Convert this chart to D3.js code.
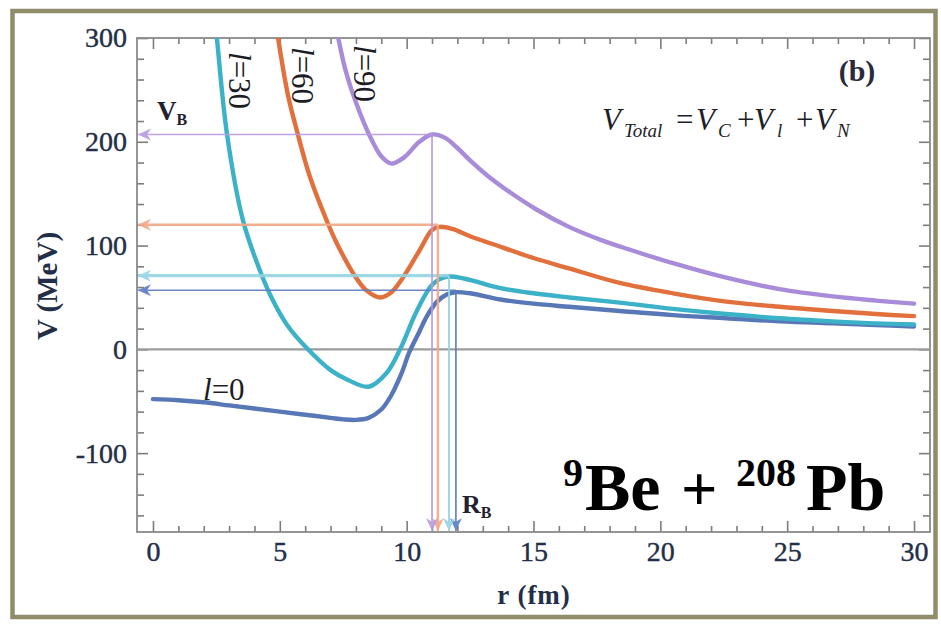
<!DOCTYPE html>
<html>
<head>
<meta charset="utf-8">
<script src="https://cdn.jsdelivr.net/npm/d3@7/dist/d3.min.js"></script>
<style>
  html, body { margin: 0; padding: 0; background: #ffffff; }
  svg { display: block; }
</style>
</head>
<body>
<svg id="chart" width="941" height="628"></svg>
<script>
// ---------------- data ----------------
// l = 0
const rL0 = [0, 1, 2, 3, 4, 5, 6, 7, 7.5, 8, 8.5, 9, 9.4, 9.8, 10.1, 10.5, 10.8, 11.2, 11.6, 11.9, 12.5, 13.7, 15, 16.4, 18.4, 20.5, 22.6, 24.7, 26.8, 28.5, 30];
const vL0 = [-48, -49, -51, -54, -57, -60, -63, -66, -67.5, -68, -66, -58, -44, -23, -3, 17, 32, 46, 53, 55, 54, 48, 44, 41, 37, 33, 30, 27, 25, 23.5, 22];
// l = 30
const rL30 = [2.4, 2.52, 2.92, 3.55, 4.2, 4.73, 5.3, 6.07, 7.0, 7.65, 8.5, 9.2, 9.74, 10.4, 11.04, 11.6, 12.3, 13.7, 15, 16.4, 18.4, 20.5, 22.6, 24.7, 26.8, 28.5, 30];
const vL30 = [330, 300, 207, 124, 77, 47, 23, 1, -20, -29, -36, -23, 0, 37, 63, 70, 68, 59, 54, 50, 45, 39, 34, 30, 27, 25, 24];
// l = 60
const rL60 = [4.8, 4.93, 5.32, 5.68, 6.19, 6.9, 7.25, 7.9, 8.4, 8.95, 9.4, 9.85, 10.5, 11.0, 11.3, 11.8, 12.5, 13.8, 15, 16.4, 18.4, 20.5, 22.6, 24.7, 26.8, 28.5, 30];
const vL60 = [322, 300, 245, 210, 166, 121, 102, 73, 57, 50, 55, 69, 95, 115, 118, 116, 109, 98, 88, 78, 64, 54, 46, 41, 37, 34, 32];
// l = 90
const rL90 = [7.15, 7.3, 7.6, 8.0, 8.5, 9.0, 9.4, 9.9, 10.5, 11.0, 11.5, 12.0, 12.5, 13.2, 13.8, 15.1, 16.4, 17.7, 18.8, 20.5, 22.6, 24.7, 26.8, 28.5, 30];
const vL90 = [315, 300, 268, 238, 208, 186, 179, 185, 200, 207, 204, 194, 182, 167, 156, 135, 118, 105, 96, 83, 69, 58, 51, 47, 44];

const seriesNames = ["l=0", "l=30", "l=60", "l=90"];
// barrier positions R_B (fm) and heights V_B (MeV)
const barrierR = [11.94, 11.67, 11.23, 11.0];
const barrierV = [57, 71, 120, 207];

const xTickValues = [0, 5, 10, 15, 20, 25, 30];
const yTickValues = [-100, 0, 100, 200, 300];
const xTickLabels = ["0", "5", "10", "15", "20", "25", "30"];
const yTickLabels = ["-100", "0", "100", "200", "300"];

// ---------------- styles ----------------
const curveColors = ["#5877b6", "#3cb2c9", "#e1703d", "#a88cd9"];
const guideColors = ["#5c7bc2", "#93d4e2", "#f2a886", "#b89ae2"];
const hGuideWidths = [1.6, 3.2, 2.6, 1.6];
const vGuideWidths = [1.8, 2.0, 2.4, 1.8];
const labelColor = "#232e48";

const svg = d3.select("#chart");
const W = 941, H = 628;
const plot = { left: 137, right: 930, top: 38, bottom: 532 };

const x = d3.scaleLinear().domain([-0.63, 30.63]).range([plot.left, plot.right]);
const y = d3.scaleLinear().domain([-176, 300]).range([plot.bottom, plot.top]);

// outer olive frame
svg.append("rect").attr("x", 0).attr("y", 0).attr("width", W).attr("height", H).attr("fill", "#ffffff");
svg.append("rect").attr("x", 12.5).attr("y", 11).attr("width", 923).attr("height", 606)
  .attr("fill", "#ffffff").attr("stroke", "#8f8d69").attr("stroke-width", 4.5);

const defs = svg.append("defs");
defs.append("clipPath").attr("id", "plotclip").append("rect")
  .attr("x", plot.left).attr("y", plot.top)
  .attr("width", plot.right - plot.left).attr("height", plot.bottom - plot.top);

guideColors.forEach((c, i) => {
  defs.append("marker").attr("id", "arr" + i)
    .attr("viewBox", "-14 -7 16 14").attr("refX", 0).attr("refY", 0)
    .attr("markerWidth", 16).attr("markerHeight", 14)
    .attr("markerUnits", "userSpaceOnUse").attr("orient", "auto")
    .append("path").attr("d", "M0,0 L-13,-6 L-9,0 L-13,6 Z").attr("fill", c);
});

// ---------------- axes ----------------
const tickColor = "#7d7d7d";
function styleAxis(g) {
  g.select(".domain").remove();
  g.selectAll(".tick line").attr("stroke", tickColor).attr("stroke-width", 1.6);
  g.selectAll(".tick text").attr("fill", labelColor)
    .attr("stroke", labelColor).attr("stroke-width", 0.4)
    .attr("font-family", "'Liberation Serif', 'DejaVu Serif', serif").attr("font-size", 28);
}
const xMinor = d3.range(0, 31, 1).filter(v => v % 5 !== 0);
const yMinor = d3.range(-160, 300, 20).filter(v => v % 100 !== 0);

// bottom
svg.append("g").attr("transform", `translate(0,${plot.bottom})`)
  .call(d3.axisBottom(x).tickValues(xTickValues).tickFormat((d, i) => xTickLabels[i]).tickSize(-11).tickSizeOuter(0).tickPadding(9))
  .call(styleAxis);
svg.append("g").attr("transform", `translate(0,${plot.bottom})`)
  .call(d3.axisBottom(x).tickValues(xMinor).tickFormat("").tickSize(-6).tickSizeOuter(0)).call(styleAxis);
// top
svg.append("g").attr("transform", `translate(0,${plot.top})`)
  .call(d3.axisTop(x).tickValues(xTickValues).tickFormat("").tickSize(-11).tickSizeOuter(0)).call(styleAxis);
svg.append("g").attr("transform", `translate(0,${plot.top})`)
  .call(d3.axisTop(x).tickValues(xMinor).tickFormat("").tickSize(-6).tickSizeOuter(0)).call(styleAxis);
// left
svg.append("g").attr("transform", `translate(${plot.left},0)`)
  .call(d3.axisLeft(y).tickValues(yTickValues).tickFormat((d, i) => yTickLabels[i]).tickSize(-11).tickSizeOuter(0).tickPadding(10))
  .call(styleAxis);
svg.append("g").attr("transform", `translate(${plot.left},0)`)
  .call(d3.axisLeft(y).tickValues(yMinor).tickFormat("").tickSize(-7).tickSizeOuter(0)).call(styleAxis);
// right
svg.append("g").attr("transform", `translate(${plot.right},0)`)
  .call(d3.axisRight(y).tickValues(yTickValues).tickFormat("").tickSize(-11).tickSizeOuter(0)).call(styleAxis);
svg.append("g").attr("transform", `translate(${plot.right},0)`)
  .call(d3.axisRight(y).tickValues(yMinor).tickFormat("").tickSize(-7).tickSizeOuter(0)).call(styleAxis);

// frame
svg.append("rect").attr("x", plot.left).attr("y", plot.top)
  .attr("width", plot.right - plot.left).attr("height", plot.bottom - plot.top)
  .attr("fill", "none").attr("stroke", "#8a8a8a").attr("stroke-width", 1.8);

// zero line
svg.append("line").attr("x1", plot.left).attr("x2", plot.right).attr("y1", y(0)).attr("y2", y(0))
  .attr("stroke", "#9c9c9c").attr("stroke-width", 2.2);

// ---------------- curves ----------------
const series = [
  rL0.map((r, i) => [r, vL0[i]]),
  rL30.map((r, i) => [r, vL30[i]]),
  rL60.map((r, i) => [r, vL60[i]]),
  rL90.map((r, i) => [r, vL90[i]])
];
const line = d3.line().x(d => x(d[0])).y(d => y(d[1])).curve(d3.curveCatmullRom.alpha(0.5));
const curveG = svg.append("g").attr("clip-path", "url(#plotclip)");
series.forEach((s, i) => {
  curveG.append("path").datum(s).attr("d", line)
    .attr("fill", "none").attr("stroke", curveColors[i]).attr("stroke-width", 4.4)
    .attr("stroke-linejoin", "round").attr("stroke-linecap", "round");
});

// ---------------- barrier guides ----------------
const guideG = svg.append("g");
barrierR.forEach((r, i) => {
  guideG.append("line")
    .attr("x1", x(r)).attr("y1", y(barrierV[i])).attr("x2", plot.left + 1).attr("y2", y(barrierV[i]))
    .attr("stroke", guideColors[i]).attr("stroke-width", hGuideWidths[i]).attr("opacity", 0.9)
    .attr("marker-end", `url(#arr${i})`);
  guideG.append("line")
    .attr("x1", x(r)).attr("y1", y(barrierV[i])).attr("x2", x(r)).attr("y2", plot.bottom - 1)
    .attr("stroke", guideColors[i]).attr("stroke-width", vGuideWidths[i]).attr("opacity", 0.9)
    .attr("marker-end", `url(#arr${i})`);
});

// ---------------- texts ----------------
const serif = "'Liberation Serif', 'DejaVu Serif', serif";

// axis titles
svg.append("text").attr("transform", "translate(57,286) rotate(-90)")
  .attr("text-anchor", "middle").attr("font-family", serif).attr("font-size", 29).attr("font-weight", "bold")
  .attr("fill", labelColor).text("V (MeV)");
svg.append("text").attr("x", 534).attr("y", 604)
  .attr("text-anchor", "middle").attr("font-family", serif).attr("font-size", 27).attr("font-weight", "bold")
  .attr("fill", labelColor).attr("letter-spacing", 1).text("r (fm)");

// (b)
svg.append("text").attr("x", 857).attr("y", 81).attr("text-anchor", "middle")
  .attr("font-family", serif).attr("font-size", 30).attr("font-weight", "bold").attr("fill", "#2a2a3a").text("(b)");

// V_Total = V_C + V_l + V_N
const eq = svg.append("text").attr("y", 130)
  .attr("font-family", serif).attr("font-size", 31).attr("font-style", "italic").attr("fill", "#1e1e28");
const eqParts = [
  ["V", 602, 0, 31], ["Total", 624, 7, 19], ["=", 676, 0, 31], ["V", 696, 0, 31], ["C", 718, 7, 19],
  ["+", 737, 0, 31], ["V", 754, 0, 31], ["l", 777, 7, 19], ["+", 796, 0, 31], ["V", 815, 0, 31], ["N", 837, 7, 19]
];
eqParts.forEach(p => {
  eq.append("tspan").attr("x", p[1]).attr("y", 130 + p[2]).attr("font-size", p[3])
    .attr("font-style", p[0] === "=" || p[0] === "+" ? "normal" : "italic").text(p[0]);
});

// V_B label
const vb = svg.append("text").attr("x", 157).attr("y", 120)
  .attr("font-family", serif).attr("font-size", 27).attr("font-weight", "bold").attr("fill", "#22222e");
vb.append("tspan").text("V");
vb.append("tspan").attr("font-size", 16).attr("dy", 5).text("B");

// R_B label
const rb = svg.append("text").attr("x", 462).attr("y", 513)
  .attr("font-family", serif).attr("font-size", 26).attr("font-weight", "bold").attr("fill", "#22222e");
rb.append("tspan").text("R");
rb.append("tspan").attr("font-size", 16).attr("dy", 5).text("B");

// curve labels (rotated)
function lLabel(tx, ty, txt, rot) {
  const t = svg.append("text").attr("transform", `translate(${tx},${ty}) rotate(${rot})`)
    .attr("font-family", serif).attr("font-size", 31).attr("fill", "#1c1c24");
  t.append("tspan").attr("font-style", "italic").text("l");
  t.append("tspan").text(txt.slice(1));
}
lLabel(229, 52, seriesNames[1], 90);
lLabel(292, 47, seriesNames[2], 90);
lLabel(354, 45, seriesNames[3], 90);
lLabel(203, 400, seriesNames[0], 0);

// reaction label
const rx = svg.append("text").attr("font-family", serif).attr("font-weight", "bold").attr("fill", "#000000");
rx.append("tspan").attr("x", 563).attr("y", 486).attr("font-size", 40).text("9");
rx.append("tspan").attr("x", 585).attr("y", 510).attr("font-size", 68).text("Be");
rx.append("tspan").attr("x", 681).attr("y", 510).attr("font-size", 64).text("+");
rx.append("tspan").attr("x", 736).attr("y", 486).attr("font-size", 40).text("208");
rx.append("tspan").attr("x", 806).attr("y", 510).attr("font-size", 68).text("Pb");
</script>
</body>
</html>
